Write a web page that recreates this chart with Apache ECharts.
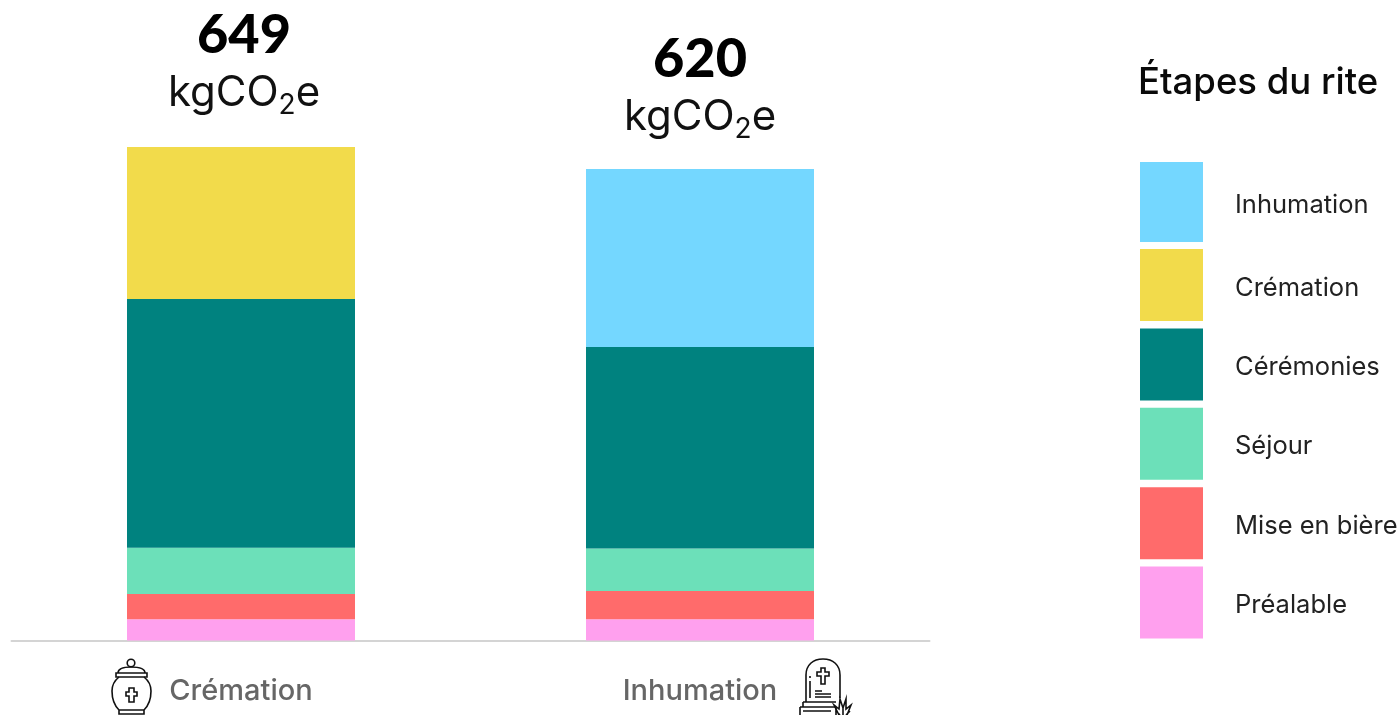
<!DOCTYPE html>
<html>
<head>
<meta charset="utf-8">
<style>
  html, body { margin: 0; padding: 0; background: #fff; }
  #chart { width: 1400px; height: 715px; }
</style>
<script src="https://cdn.jsdelivr.net/npm/echarts@6/dist/echarts.min.js"></script>
</head>
<body>
<div id="chart"></div>
<script>
const rites = ['Crémation', 'Inhumation'];
const totals = [649, 620];

const prealable = [28, 28];
const miseEnBiere = [33, 37];
const sejour = [61, 56];
const ceremonies = [327, 265];
const cremation = [200, 0];
const inhumation = [0, 234];

const legendOrder = ['Inhumation', 'Crémation', 'Cérémonies', 'Séjour', 'Mise en bière', 'Préalable'];
const legendTitle = 'Étapes du rite';

const fontName = 'Inter';

function stackBar(name, values, color) {
    return {
        name: name,
        type: 'bar',
        stack: 'rite',
        barWidth: 228,
        data: values,
        itemStyle: { color: color },
        emphasis: { disabled: true }
    };
}

// les pictos urne et tombe
const iconPaths = {
    urnLid: 'M118 673 C118 668 125 667 131 667 C138 667 145 668 145 673 Z M116 673 H147 V677 H116 Z',
    urnBody: 'M119 677 C114 681 112 685 112 691 C112 699 115 706 119 710 H144 C148 706 151 699 151 691 C151 685 149 681 144 677 M119 710 L119 714 H144 L144 710',
    urnCross: 'M129 688 H134 V692 H137 V696 H134 V702 H129 V696 H126 V692 H129 Z',
    tombArch: 'M806 702 V675 C806 665 813 659 823 659 C833 659 840 665 840 675 V698',
    tombCross: 'M821 668 H825 V672 H829 V676 H825 V684 H821 V676 H817 V672 H821 Z',
    tombLines: 'M815 691 H822 M815 694 H831 M815 697 H831 M810 676 V678 M810 681 V698',
    tombBase: 'M803 702 H836 M803 702 V707 M800 707 H836 M800 707 V716 M836 707 V716 M803 711 H831',
    tombGrass: 'M839 715 L834 705 L839 709 L840 699 L843 708 L846 699 L846 709 L851 705 L847 715 M843 708 L843 715 M836 711 L840 715 M850 711 L846 715'
};
const iconStyle = { fill: 'none', stroke: '#111', lineWidth: 1.6 };
const iconGraphics = [{ type: 'circle', shape: { cx: 131, cy: 663, r: 3.8 }, style: iconStyle }];
for (let key in iconPaths) {
    echarts.graphic.registerShape(key, echarts.graphic.extendPath(iconPaths[key]));
    iconGraphics.push({ type: key, style: iconStyle });
}

// le padding haut de la riche fait descendre le texte par rapport au carre
const legendText = {
    rich: {
        t: { fontFamily: fontName, fontSize: 25.5, color: '#222', padding: [6, 0, 0, 27] }
    }
};
const legendLabel = function (name) {
    return '{t|' + name + '}';
};

const chart = echarts.init(document.getElementById('chart'), null, { renderer: 'canvas' });

chart.setOption({
    animation: false,
    backgroundColor: '#fff',
    textStyle: { fontFamily: fontName },
    title: {
        text: legendTitle,
        left: 1138,
        top: 65,
        padding: 0,
        textStyle: { fontFamily: fontName, fontSize: 36.5, fontWeight: 500, color: '#0a0a0a' }
    },
    grid: { left: 11.5, right: 470.5, top: 147, height: 493.5 },
    xAxis: {
        type: 'category',
        data: rites,
        axisTick: { show: false },
        axisLine: { lineStyle: { color: '#d4d4d4', width: 2 } },
        axisLabel: { fontFamily: fontName, fontSize: 29, fontWeight: 500, color: '#666', margin: 36 }
    },
    yAxis: { type: 'value', min: 0, max: 649, show: false },
    legend: [{
        left: 1140,
        top: 162,
        orient: 'vertical',
        icon: 'rect',
        itemWidth: 63,
        itemHeight: 80,
        padding: 0,
        selectedMode: false,
        data: legendOrder.slice(0, 1),
        formatter: legendLabel,
        textStyle: legendText
    }, {
        left: 1140,
        top: 249,
        orient: 'vertical',
        icon: 'rect',
        itemWidth: 63,
        itemHeight: 72,
        itemGap: 7.4,
        padding: 0,
        selectedMode: false,
        data: legendOrder.slice(1),
        formatter: legendLabel,
        textStyle: legendText
    }],
    series: [
        stackBar('Préalable', prealable, '#ffa0ee'),
        stackBar('Mise en bière', miseEnBiere, '#ff6b6b'),
        stackBar('Séjour', sejour, '#6ce0b9'),
        stackBar('Cérémonies', ceremonies, '#00827f'),
        stackBar('Crémation', cremation, '#f2db4b'),
        stackBar('Inhumation', inhumation, '#74d7ff'),
        {
            // barre vide, sert seulement a porter le total au dessus de la pile
            name: 'Total',
            type: 'bar',
            stack: 'rite',
            barWidth: 228,
            data: [0, 0],
            silent: true,
            label: {
                show: true,
                position: 'top',
                distance: 27,
                formatter: function (params) {
                    return '{total|' + totals[params.dataIndex] + '}\n{unit|kgCO}{sub|2}{unit|e}';
                },
                rich: {
                    total: { fontFamily: 'Lato', fontSize: 54, fontWeight: 900, color: '#000', lineHeight: 60 },
                    unit: { fontFamily: fontName, fontSize: 42, color: '#111', lineHeight: 54 },
                    sub: { fontFamily: fontName, fontSize: 28, color: '#111', verticalAlign: 'bottom', lineHeight: 42 }
                }
            },
            labelLayout: function (params) {
                return params.dataIndex === 0 ? { dx: 3 } : { dy: 2 };
            }
        }
    ],
    graphic: iconGraphics
});
</script>
</body>
</html>
